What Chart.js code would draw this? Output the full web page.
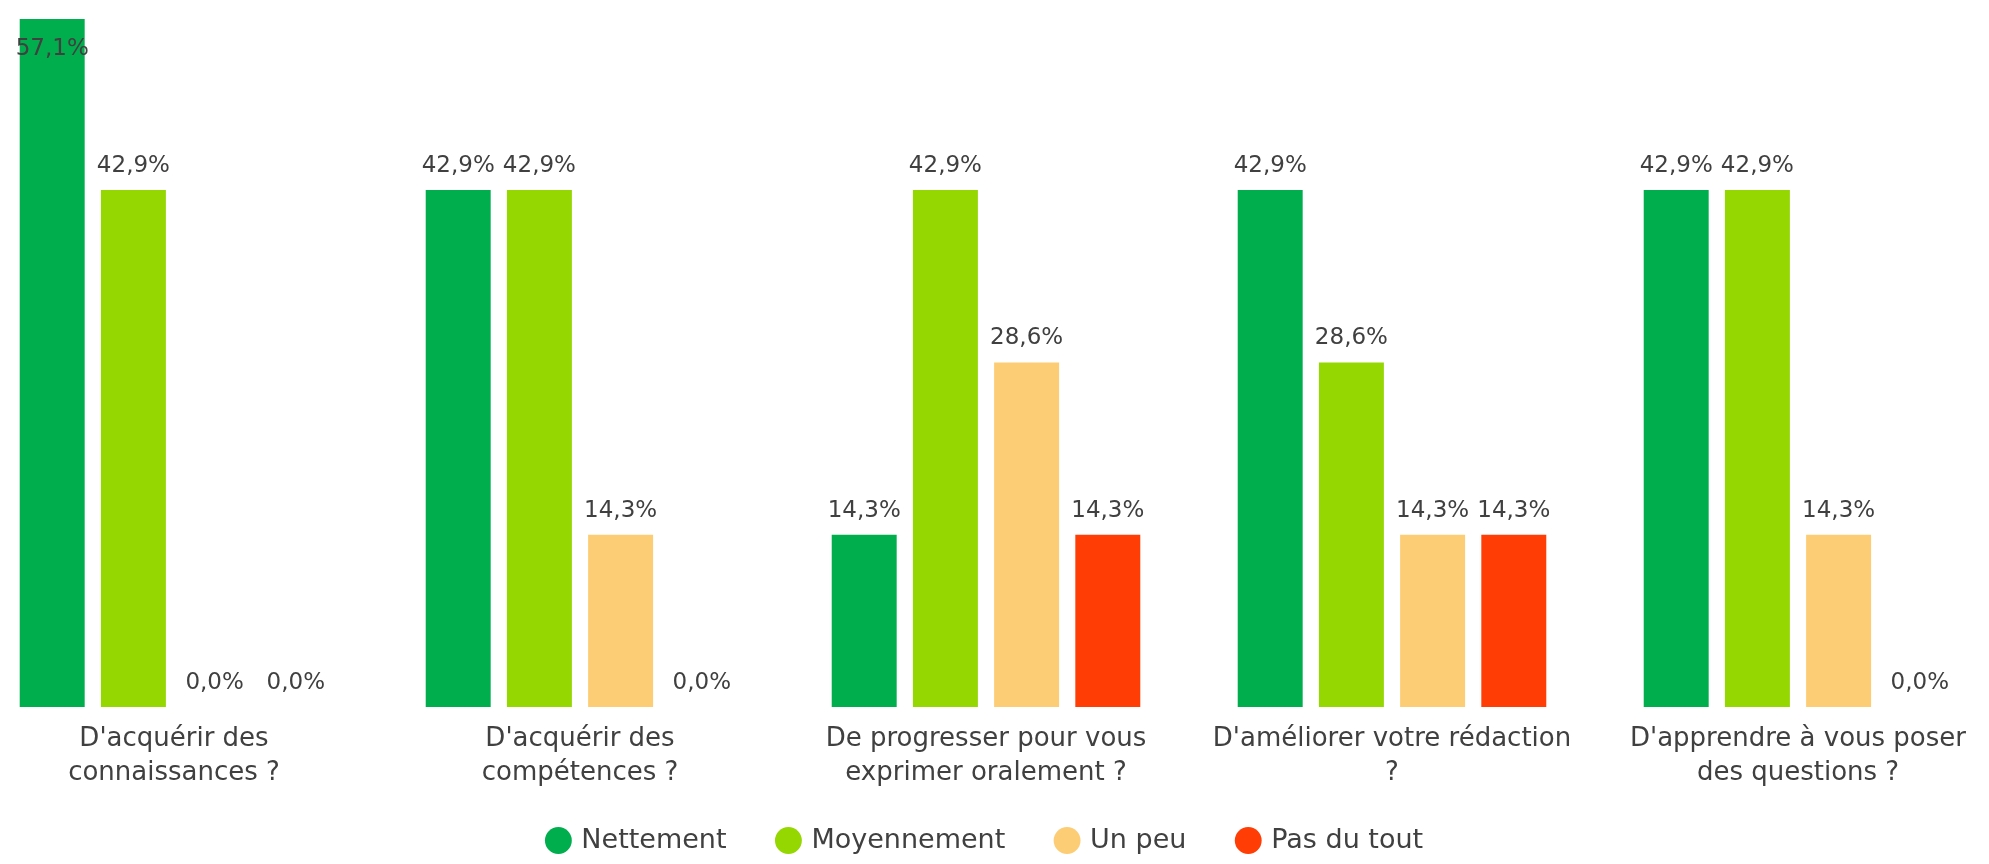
<!DOCTYPE html>
<html lang="fr">
<head>
<meta charset="utf-8">
<title>Résultats</title>
<script src="https://cdn.jsdelivr.net/npm/chart.js@4.4.1/dist/chart.umd.min.js"></script>
<style>
    html, body { margin: 0; padding: 0; background: #fff; overflow: hidden; }
    body { width: 1989px; height: 864px; position: relative; }
    #wrap { position: absolute; left: -29px; top: 0; width: 2030px; height: 864px; }
</style>
</head>
<body>
<div id="wrap"><canvas id="chart"></canvas></div>
<script>
const categories = [
    ["D'acquérir des", "connaissances ?"],
    ["D'acquérir des", "compétences ?"],
    ["De progresser pour vous", "exprimer oralement ?"],
    ["D'améliorer votre rédaction", "?"],
    ["D'apprendre à vous poser", "des questions ?"]
];
const seriesNames = ['Nettement', 'Moyennement', 'Un peu', 'Pas du tout'];
const nettement = [57.1, 42.9, 14.3, 42.9, 42.9];
const moyennement = [42.9, 42.9, 42.9, 28.6, 42.9];
const unPeu = [0, 14.3, 28.6, 14.3, 14.3];
const pasDuTout = [0, 0, 14.3, 14.3, 0];
const colors = ['#00AE4D', '#95D700', '#FDCD75', '#FF3D05'];

const textColor = '#404040';
const fontFamily = "'DejaVu Sans', sans-serif";

// value labels drawn above each bar, french decimal comma
const valueLabels = {
    id: 'valueLabels',
    afterDatasetsDraw(chart) {
        const ctx = chart.ctx;
        ctx.save();
        ctx.font = '23px ' + fontFamily;
        ctx.fillStyle = textColor;
        ctx.textAlign = 'center';
        ctx.textBaseline = 'alphabetic';
        chart.data.datasets.forEach((ds, i) => {
            chart.getDatasetMeta(i).data.forEach((bar, j) => {
                const text = ds.data[j].toFixed(1).replace('.', ',') + '%';
                let y = bar.y - 18;
                if (y - 20 < 0) y = bar.y + 36;
                ctx.fillText(text, bar.x, y);
            });
        });
        ctx.restore();
    }
};

const ctx = document.getElementById('chart').getContext('2d');
const chart = new Chart(ctx, {
    type: 'bar',
    data: {
        labels: categories,
        datasets: [nettement, moyennement, unPeu, pasDuTout].map((values, i) => ({
            label: seriesNames[i],
            data: values,
            backgroundColor: colors[i],
            borderWidth: 0,
            categoryPercentage: 0.8,
            barPercentage: 0.8
        }))
    },
    options: {
        responsive: true,
        maintainAspectRatio: false,
        animation: false,
        layout: {
            padding: { top: 19, bottom: 0, left: 0, right: 0 }
        },
        plugins: {
            tooltip: { enabled: false },
            legend: {
                position: 'bottom',
                labels: {
                    usePointStyle: true,
                    pointStyle: 'circle',
                    boxWidth: 19,
                    boxHeight: 19,
                    padding: 18,
                    color: textColor,
                    font: { family: fontFamily, size: 27 },
                    // wider gap between items without making the legend taller
                    generateLabels: chart => {
                        const items = Chart.defaults.plugins.legend.labels.generateLabels(chart);
                        items.forEach((item, i) => {
                            if (i < items.length - 1) item.text += '    ';
                        });
                        return items;
                    }
                }
            }
        },
        scales: {
            x: {
                grid: { display: false, drawTicks: false },
                border: { display: false },
                ticks: {
                    color: textColor,
                    padding: 16,
                    maxRotation: 0,
                    autoSkip: false,
                    font: { family: fontFamily, size: 26, lineHeight: 1.28 }
                },
                afterFit: scale => { scale.height = 102; }
            },
            y: {
                display: false,
                min: 0,
                max: 57.1
            }
        }
    },
    plugins: [valueLabels]
});
</script>
</body>
</html>
